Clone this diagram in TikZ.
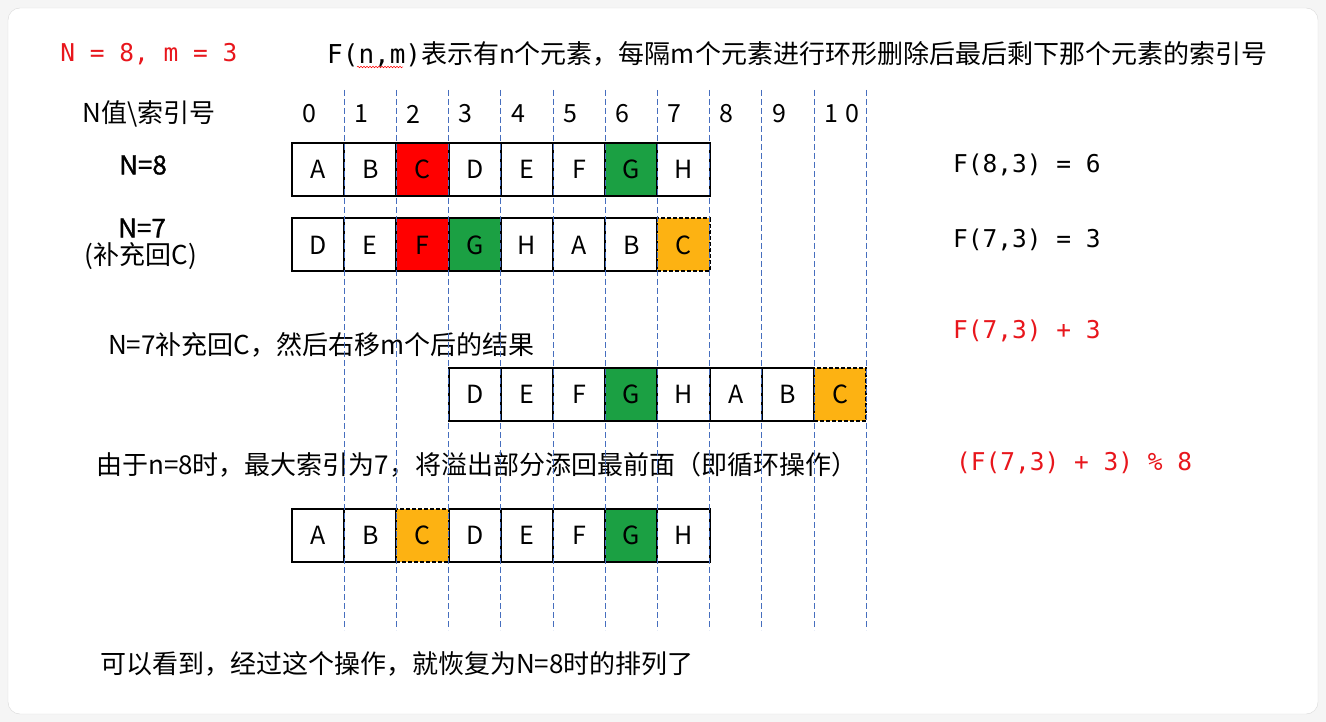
\documentclass[tikz,border=0pt]{standalone}
\usepackage{fontspec}
\setmainfont{Noto Sans CJK SC}
\setmonofont{DejaVu Sans Mono}
\newfontfamily\heavyfont{Noto Sans CJK SC}[FakeBold=1.2]
\usetikzlibrary{decorations.pathmorphing}
\definecolor{cellred}{RGB}{255,0,0}
\definecolor{txtred}{RGB}{232,22,28}
\definecolor{cellgreen}{RGB}{27,160,67}
\definecolor{cellorange}{RGB}{253,178,18}
\definecolor{gridblue}{RGB}{70,110,190}
\begin{document}
\begin{tikzpicture}[x=1pt, y=-1pt,
  cell/.style={draw, line width=2pt, minimum width=52.2pt, minimum height=53pt, inner sep=0pt, font=\fontsize{25}{29}\selectfont},
  movedcell/.style={cell, fill=cellorange, dash pattern=on 4pt off 2pt},
  idx/.style={anchor=west, inner sep=0pt, font=\fontsize{25}{29}\selectfont},
  lbl/.style={inner sep=0pt, font=\fontsize{26}{30}\selectfont},
  rowlbl/.style={inner sep=0pt, font=\fontsize{26}{30}\heavyfont},
  code/.style={anchor=west, inner sep=0pt, font=\fontsize{24.5}{28}\selectfont\ttfamily},
  colline/.style={gridblue, line width=0.7pt, dash pattern=on 6pt off 3pt}]
  \useasboundingbox (0,0) rectangle (1326,722);
  \fill[gray!8] (0,0) rectangle (1326,722);
  \draw[gray!30, fill=white, rounded corners=12] (8,8) rectangle (1318,714);

  \node[code, text=txtred, anchor=center] (param) at (149,54) {N = 8, m = 3};
  \node[lbl, anchor=west] (title) at (327,54) {\texttt{F(n,m)}表示有n个元素，每隔m个元素进行环形删除后最后剩下那个元素的索引号};
  \coordinate (sqa) at (357,67);
  \coordinate (sqb) at (403,67);
  \draw[red, line width=0.5pt, decorate, decoration={snake, amplitude=0.8pt, segment length=3pt}] (sqa) -- (sqb);

  \node[lbl] (hdr) at (149,114) {N值\textbackslash 索引号};
  \foreach \n [count=\k from 0] in {0,...,9}
    \node[idx] (i\k) at (302+52.2*\k,114) {\n};
  \node[idx] (i10) at (302+52.2*10,114) {1\hspace{7pt}0};

  \node[rowlbl] (n8) at (143,165) {N=8};
  \node[rowlbl] (n7) at (142,228) {N=7};
  \node[lbl] (n7b) at (141,256) {(补充回C)};

  \foreach \t/\f [count=\k from 0] in {A/white,B/white,C/cellred,D/white,E/white,F/white,G/cellgreen,H/white}
    \node[cell, fill=\f] (a\k) at (318.1+52.2*\k,169.5) {\t};

  \foreach \t/\f [count=\k from 0] in {D/white,E/white,F/cellred,G/cellgreen,H/white,A/white,B/white}
    \node[cell, fill=\f] (b\k) at (318.1+52.2*\k,245) {\t};
  \node[movedcell] (b7) at (318.1+52.2*7,245) {C};

  \node[lbl, anchor=west] (shift) at (108,345) {N=7补充回C，然后右移m个后的结果};
  \foreach \t/\f [count=\k from 3] in {D/white,E/white,F/white,G/cellgreen,H/white,A/white,B/white}
    \node[cell, fill=\f] (c\k) at (318.1+52.2*\k,394.5) {\t};
  \node[movedcell] (c10) at (318.1+52.2*10,394.5) {C};

  \node[lbl, anchor=west] (wrap) at (96,465) {由于n=8时，最大索引为7，将溢出部分添回最前面（即循环操作）};
  \node[cell] (d0) at (318.1,535.5) {A};
  \node[cell] (d1) at (318.1+52.2,535.5) {B};
  \foreach \t/\f [count=\k from 3] in {D/white,E/white,F/white,G/cellgreen,H/white}
    \node[cell, fill=\f] (d\k) at (318.1+52.2*\k,535.5) {\t};
  \node[movedcell] (d2) at (318.1+52.2*2,535.5) {C};

  \node[code] (f8) at (953,165) {F(8,3) = 6};
  \node[code] (f7) at (953,240) {F(7,3) = 3};
  \node[code, text=txtred] (f7s) at (953,331) {F(7,3) + 3};
  \node[code, text=txtred] (fmod) at (956,463) {(F(7,3) + 3) \% 8};

  \node[lbl, anchor=west] (concl) at (100,664) {可以看到，经过这个操作，就恢复为N=8时的排列了};

  \foreach \k in {1,...,11} {
    \coordinate (gt\k) at (292+52.2*\k,90);
    \coordinate (gb\k) at (292+52.2*\k,630);
    \draw[colline] (gt\k) -- (gb\k);
  }
\end{tikzpicture}
\end{document}
